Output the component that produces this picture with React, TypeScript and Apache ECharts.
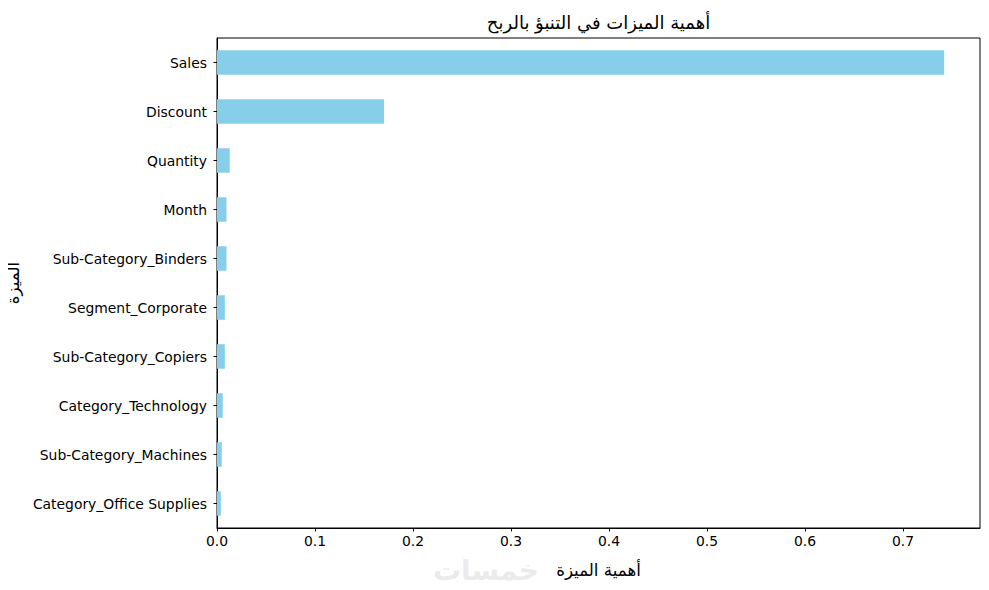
import React, { useEffect, useRef } from "react";
import * as echarts from "echarts";

const categories = [
  "Sales",
  "Discount",
  "Quantity",
  "Month",
  "Sub-Category_Binders",
  "Segment_Corporate",
  "Sub-Category_Copiers",
  "Category_Technology",
  "Sub-Category_Machines",
  "Category_Office Supplies",
];
const importances = [0.742, 0.1705, 0.013, 0.0097, 0.0097, 0.008, 0.008, 0.0059, 0.0049, 0.0039];
const xTicks = [0, 0.1, 0.2, 0.3, 0.4, 0.5, 0.6, 0.7];
const titleText = "أهمية الميزات في التنبؤ بالربح";
const xName = "أهمية الميزة";
const yName = "الميزة";
const watermark = "خمسات";

export default function App() {
  const ref = useRef<HTMLDivElement>(null);
  useEffect(() => {
    const chart = echarts.init(ref.current!, null, { renderer: "svg" });
    const font = "DejaVu Sans";
    chart.setOption({
      animation: false,
      textStyle: { fontFamily: font },
      grid: {
        left: 217,
        right: 9,
        top: 38,
        bottom: 62,
        containLabel: false,
        outerBoundsMode: "none",
        show: true,
        borderColor: "#000",
        borderWidth: 1,
        backgroundColor: "transparent",
      },
      graphic: [
        {
          type: "text",
          x: 598.5,
          y: 22,
          style: {
            text: titleText,
            fontFamily: font,
            fontSize: 18,
            fill: "#000",
            textAlign: "center",
            textVerticalAlign: "middle",
          },
        },
        {
          type: "text",
          x: 486,
          y: 570,
          z: -1,
          style: {
            text: watermark,
            fontFamily: font,
            fontSize: 28,
            fontWeight: "bold",
            fill: "#ebebeb",
            textAlign: "center",
            textVerticalAlign: "middle",
          },
        },
      ],
      xAxis: {
        type: "value",
        min: 0,
        max: 0.7786,
        interval: 0.1,
        name: xName,
        nameLocation: "middle",
        nameGap: 33,
        nameTextStyle: { fontSize: 16.7, color: "#000", fontFamily: font },
        splitLine: { show: false },
        axisLine: { show: true, lineStyle: { color: "#000", width: 1 } },
        axisTick: { show: true, length: 3.5, lineStyle: { color: "#000" } },
        axisLabel: {
          color: "#000",
          fontSize: 13.9,
          margin: 6,
          showMaxLabel: false,
          formatter: (v: number) => {
            const hit = xTicks.find((t) => Math.abs(t - v) < 1e-6);
            return hit === undefined ? "" : hit.toFixed(1);
          },
        },
      },
      yAxis: {
        type: "category",
        data: categories,
        inverse: true,
        name: yName,
        nameLocation: "middle",
        nameRotate: 90,
        nameGap: 194,
        nameTextStyle: { fontSize: 16.7, color: "#000", fontFamily: font },
        axisLine: { show: true, lineStyle: { color: "#000", width: 1 } },
        axisTick: { show: true, length: 3.5, alignWithLabel: true, lineStyle: { color: "#000" } },
        axisLabel: { color: "#000", fontSize: 13.9, margin: 10 },
        splitLine: { show: false },
      },
      series: [
        {
          type: "bar",
          data: importances,
          barWidth: "50%",
          itemStyle: { color: "#87CEEB" },
        },
      ],
    });
    return () => chart.dispose();
  }, []);
  return <div ref={ref} style={{ width: 989, height: 590, margin: -8 }} />;
}
